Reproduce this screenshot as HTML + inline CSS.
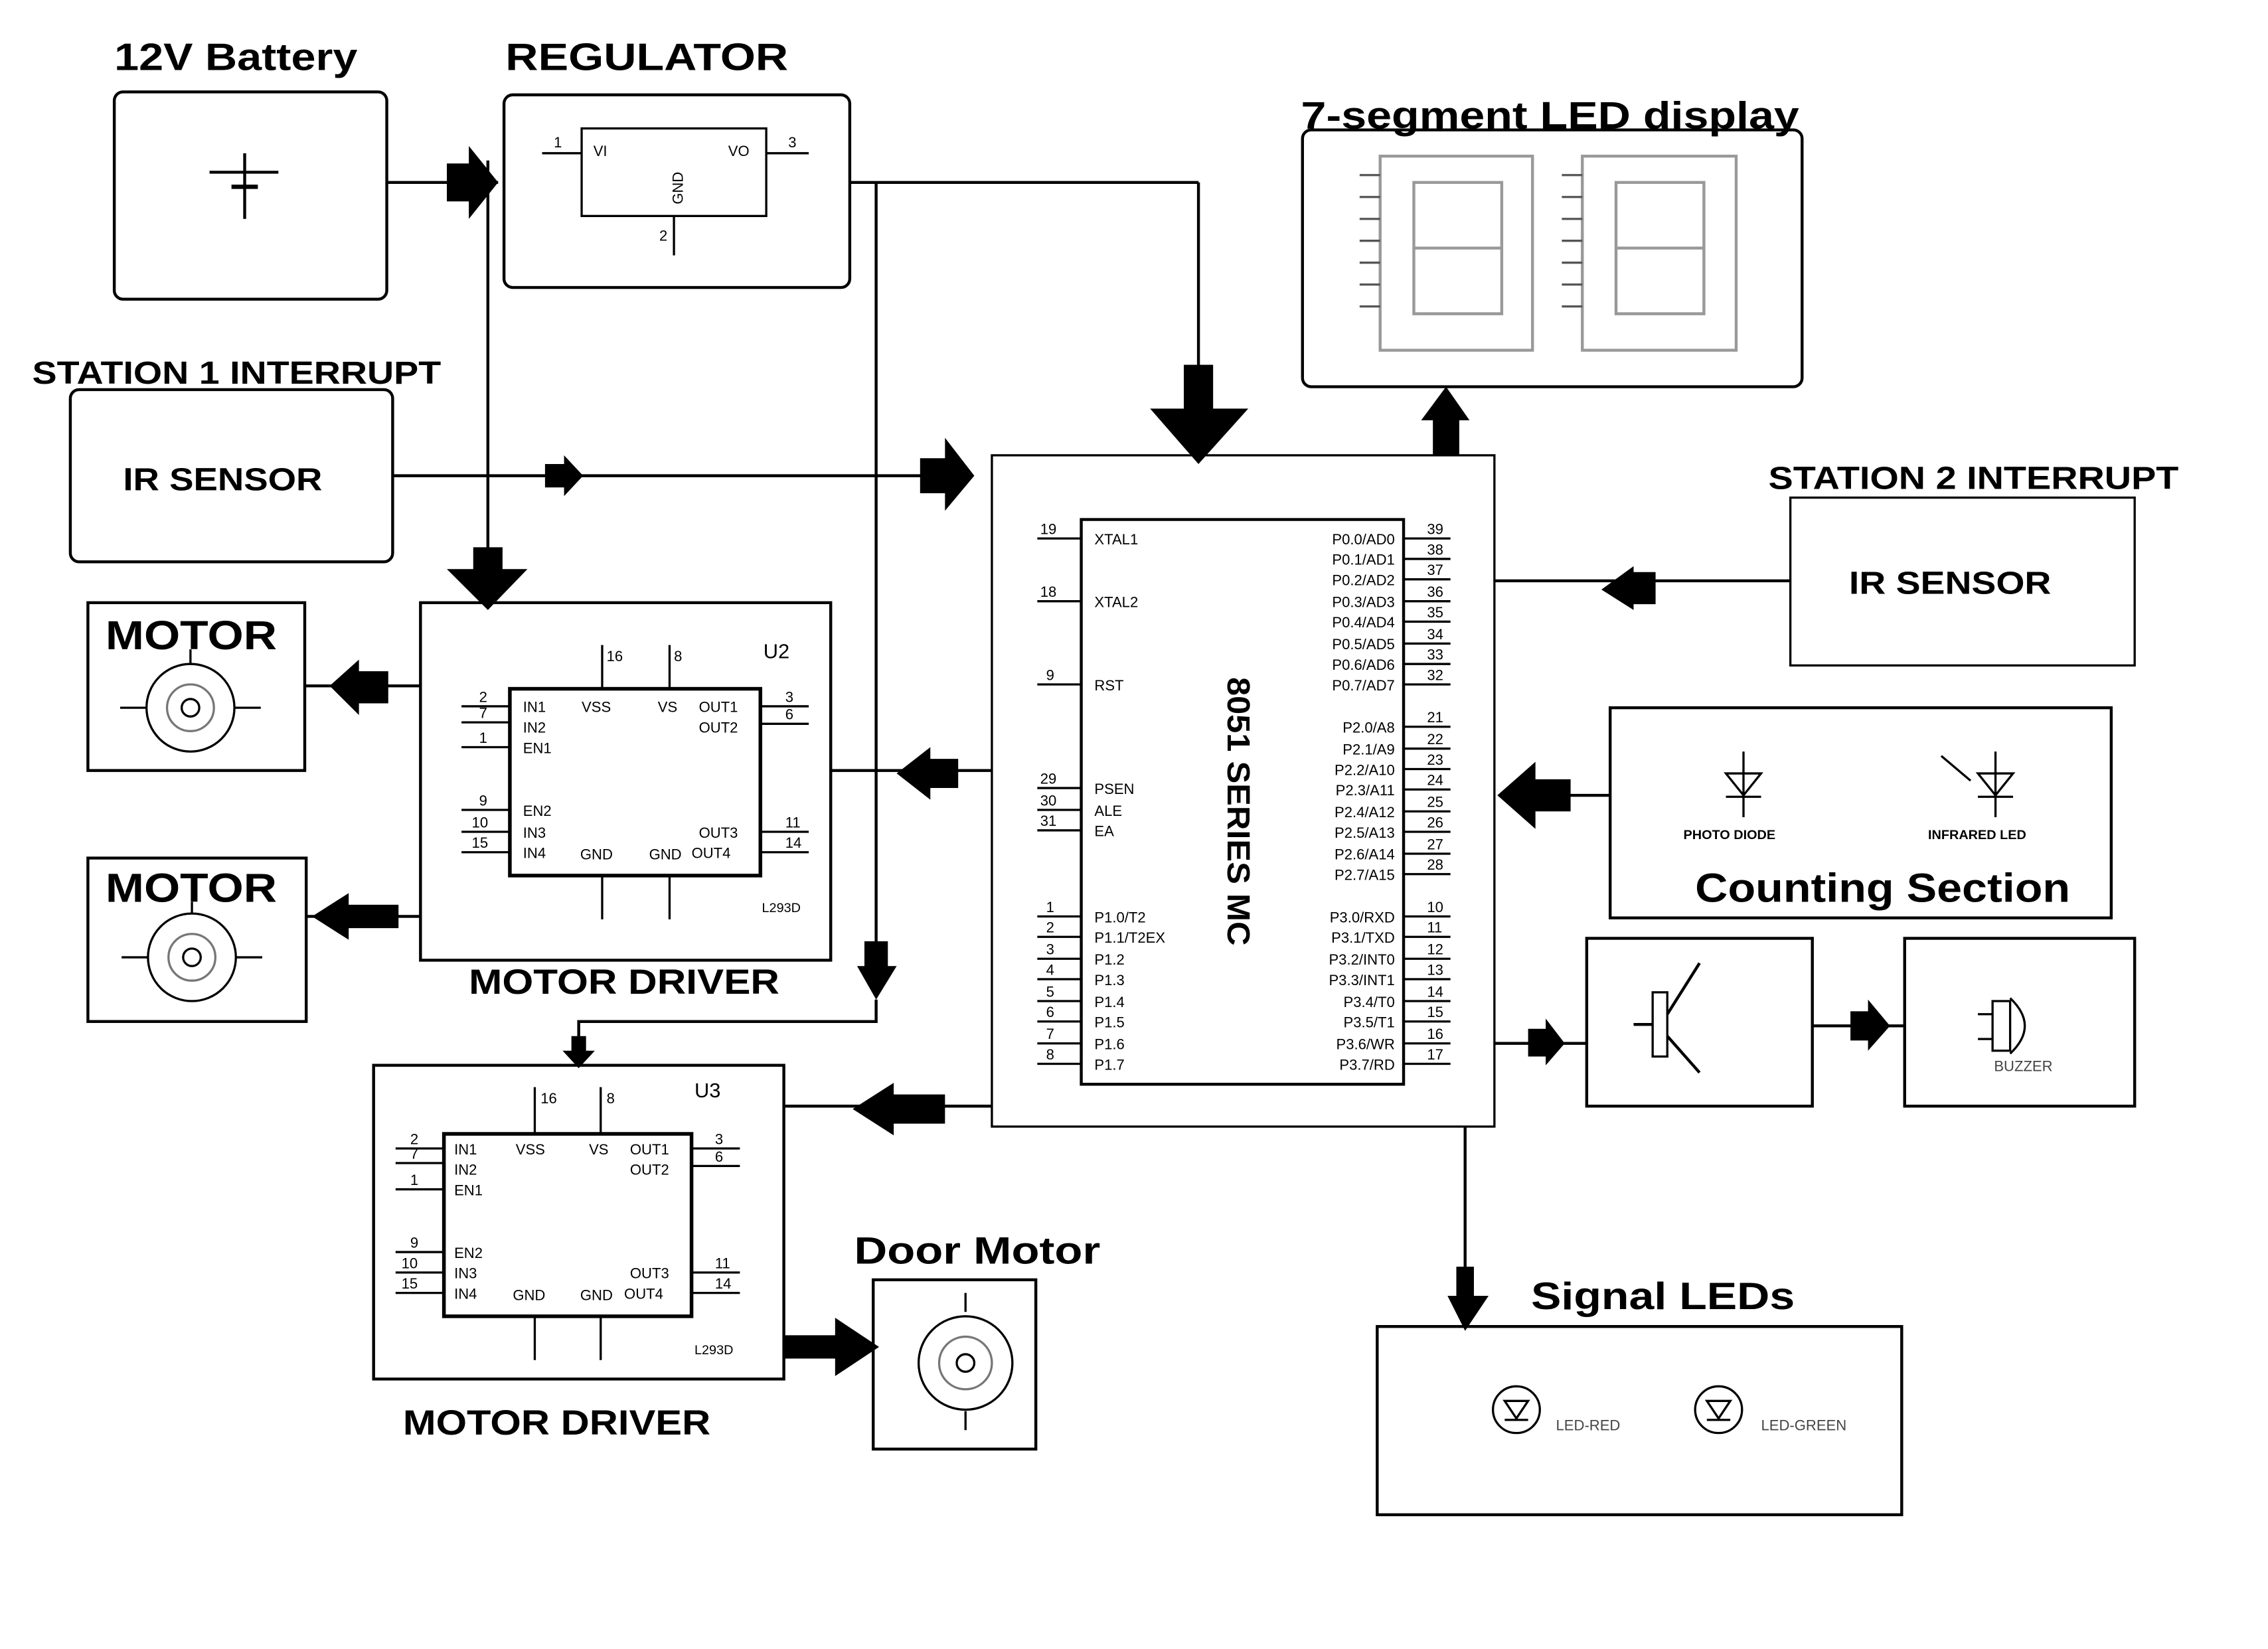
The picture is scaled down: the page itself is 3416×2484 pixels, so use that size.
<!DOCTYPE html>
<html><head><meta charset="utf-8"><style>
html,body{margin:0;padding:0;background:#fff;}
svg{display:block;}
text{font-family:"Liberation Sans",sans-serif;}
.b{font-weight:bold;}
</style></head><body>
<svg width="3416" height="2484" viewBox="0 0 1548 1130" preserveAspectRatio="none" xmlns="http://www.w3.org/2000/svg">
<rect width="1548" height="1130" fill="#fff"/>
<g fill="none" stroke="#000" stroke-width="2">
<rect x="78" y="63" width="186" height="142" rx="6"/>
<line x1="143" y1="118" x2="190" y2="118"/><line x1="167" y1="105" x2="167" y2="150"/><line x1="158" y1="128" x2="176" y2="128" stroke-width="3"/>
<rect x="344" y="65" width="236" height="132" rx="6"/>
<rect x="397" y="88" width="126" height="60" stroke-width="1.5"/>
<line x1="370" y1="105" x2="397" y2="105" stroke-width="1.5"/><line x1="523" y1="105" x2="552" y2="105" stroke-width="1.5"/><line x1="460" y1="148" x2="460" y2="175" stroke-width="1.5"/>
<line x1="264" y1="125" x2="340" y2="125"/>
<line x1="580" y1="125" x2="818" y2="125"/><line x1="818" y1="125" x2="818" y2="255"/>
<line x1="333" y1="110" x2="333" y2="380"/>
<line x1="598" y1="125" x2="598" y2="650"/>
<polyline points="598,685 598,700 395,700 395,712"/>
<line x1="268" y1="326" x2="635" y2="326"/>
<rect x="48" y="267" width="220" height="118" rx="6"/>
<rect x="889" y="89" width="341" height="176" rx="6"/>
<rect x="677" y="312" width="343" height="460" stroke-width="1.5"/>
<rect x="738" y="356" width="220" height="387" stroke-width="2"/>
<rect x="1222" y="341" width="235" height="115" stroke-width="1.5"/>
<line x1="1020" y1="398" x2="1222" y2="398"/>
<rect x="1099" y="485" width="342" height="144"/>
<line x1="1060" y1="545" x2="1099" y2="545"/>
<rect x="1083" y="643" width="154" height="115"/>
<rect x="1300" y="643" width="157" height="115"/>
<line x1="1020" y1="715" x2="1083" y2="715"/><line x1="1237" y1="703" x2="1300" y2="703"/>
<rect x="1128" y="680" width="10" height="44" stroke-width="1.5"/><line x1="1115" y1="702" x2="1128" y2="702"/>
<line x1="1138" y1="695" x2="1160" y2="660"/><line x1="1138" y1="710" x2="1160" y2="735"/>
<path d="M1360 686 L1372 686 L1372 720 L1360 720 Z M1372 684 Q1392 703 1372 722" stroke-width="1.5"/>
<line x1="1350" y1="695" x2="1360" y2="695" stroke-width="1.5"/><line x1="1350" y1="712" x2="1360" y2="712" stroke-width="1.5"/>
<rect x="940" y="909" width="358" height="129"/>
<line x1="1000" y1="772" x2="1000" y2="880"/>
<circle cx="1035" cy="966" r="16" stroke-width="1.5"/><circle cx="1173" cy="966" r="16" stroke-width="1.5"/>
<path d="M1027 960 L1043 960 L1035 972 Z M1027 973 L1043 973 M1165 960 L1181 960 L1173 972 Z M1165 973 L1181 973" stroke-width="1.5"/>
<path d="M1178 530 L1202 530 L1190 545 Z M1178 546 L1202 546 M1190 515 L1190 560" stroke-width="1.5"/>
<path d="M1350 530 L1374 530 L1362 545 Z M1350 546 L1374 546 M1362 515 L1362 560 M1345 535 L1325 518" stroke-width="1.5"/>
<rect x="287" y="413" width="280" height="245"/>
<rect x="348" y="472" width="171" height="128" stroke-width="2.5"/>
<g stroke-width="1.5">
<line x1="315" y1="484" x2="348" y2="484"/><line x1="315" y1="495" x2="348" y2="495"/><line x1="315" y1="512" x2="348" y2="512"/>
<line x1="315" y1="555" x2="348" y2="555"/><line x1="315" y1="570" x2="348" y2="570"/><line x1="315" y1="584" x2="348" y2="584"/>
<line x1="519" y1="484" x2="552" y2="484"/><line x1="519" y1="496" x2="552" y2="496"/><line x1="519" y1="570" x2="552" y2="570"/><line x1="519" y1="584" x2="552" y2="584"/>
<line x1="411" y1="442" x2="411" y2="472"/><line x1="457" y1="442" x2="457" y2="472"/><line x1="411" y1="600" x2="411" y2="630"/><line x1="457" y1="600" x2="457" y2="630"/>
</g>
<line x1="567" y1="528" x2="677" y2="528"/>
<rect x="255" y="730" width="280" height="215"/>
<rect x="303" y="777" width="169" height="125" stroke-width="2.5"/>
<g stroke-width="1.5">
<line x1="270" y1="787" x2="303" y2="787"/><line x1="270" y1="797" x2="303" y2="797"/><line x1="270" y1="815" x2="303" y2="815"/>
<line x1="270" y1="858" x2="303" y2="858"/><line x1="270" y1="872" x2="303" y2="872"/><line x1="270" y1="886" x2="303" y2="886"/>
<line x1="472" y1="787" x2="505" y2="787"/><line x1="472" y1="799" x2="505" y2="799"/><line x1="472" y1="872" x2="505" y2="872"/><line x1="472" y1="886" x2="505" y2="886"/>
<line x1="365" y1="745" x2="365" y2="777"/><line x1="410" y1="745" x2="410" y2="777"/><line x1="365" y1="902" x2="365" y2="932"/><line x1="410" y1="902" x2="410" y2="932"/>
</g>
<line x1="535" y1="758" x2="677" y2="758"/>
<rect x="60" y="413" width="148" height="115"/><rect x="60" y="588" width="149" height="112"/>
<line x1="208" y1="470" x2="287" y2="470"/><line x1="209" y1="628" x2="287" y2="628"/>
<rect x="596" y="877" width="111" height="116"/>
<g stroke-width="1.5">
<circle cx="130" cy="485" r="30"/><circle cx="130" cy="485" r="16" stroke="#777"/><circle cx="130" cy="485" r="6"/><line x1="130" y1="455" x2="130" y2="445"/><line x1="100" y1="485" x2="82" y2="485"/><line x1="160" y1="485" x2="178" y2="485"/>
<circle cx="131" cy="656" r="30"/><circle cx="131" cy="656" r="16" stroke="#777"/><circle cx="131" cy="656" r="6"/><line x1="131" y1="626" x2="131" y2="618"/><line x1="101" y1="656" x2="83" y2="656"/><line x1="161" y1="656" x2="179" y2="656"/>
<circle cx="659" cy="934" r="32"/><circle cx="659" cy="934" r="18" stroke="#777"/><circle cx="659" cy="934" r="6"/><line x1="659" y1="899" x2="659" y2="886"/><line x1="659" y1="967" x2="659" y2="980"/>
</g>
<g stroke-width="1.5">
<line x1="708" y1="369" x2="738" y2="369"/><line x1="708" y1="412" x2="738" y2="412"/><line x1="708" y1="469" x2="738" y2="469"/>
<line x1="708" y1="540" x2="738" y2="540"/><line x1="708" y1="555" x2="738" y2="555"/><line x1="708" y1="569" x2="738" y2="569"/>
<line x1="708" y1="628" x2="738" y2="628"/><line x1="708" y1="642" x2="738" y2="642"/><line x1="708" y1="657" x2="738" y2="657"/><line x1="708" y1="671" x2="738" y2="671"/><line x1="708" y1="686" x2="738" y2="686"/><line x1="708" y1="700" x2="738" y2="700"/><line x1="708" y1="715" x2="738" y2="715"/><line x1="708" y1="729" x2="738" y2="729"/>
<line x1="958" y1="369" x2="990" y2="369"/><line x1="958" y1="383" x2="990" y2="383"/><line x1="958" y1="397" x2="990" y2="397"/><line x1="958" y1="412" x2="990" y2="412"/><line x1="958" y1="426" x2="990" y2="426"/><line x1="958" y1="441" x2="990" y2="441"/><line x1="958" y1="455" x2="990" y2="455"/><line x1="958" y1="469" x2="990" y2="469"/>
<line x1="958" y1="498" x2="990" y2="498"/><line x1="958" y1="513" x2="990" y2="513"/><line x1="958" y1="527" x2="990" y2="527"/><line x1="958" y1="541" x2="990" y2="541"/><line x1="958" y1="556" x2="990" y2="556"/><line x1="958" y1="570" x2="990" y2="570"/><line x1="958" y1="585" x2="990" y2="585"/><line x1="958" y1="599" x2="990" y2="599"/>
<line x1="958" y1="628" x2="990" y2="628"/><line x1="958" y1="642" x2="990" y2="642"/><line x1="958" y1="657" x2="990" y2="657"/><line x1="958" y1="671" x2="990" y2="671"/><line x1="958" y1="686" x2="990" y2="686"/><line x1="958" y1="700" x2="990" y2="700"/><line x1="958" y1="715" x2="990" y2="715"/><line x1="958" y1="729" x2="990" y2="729"/>
</g>
</g>
<g fill="none" stroke="#999" stroke-width="2">
<rect x="942" y="107" width="104" height="133"/><rect x="1080" y="107" width="105" height="133"/>
<path d="M965 125 L1025 125 L1025 170 L965 170 Z M965 170 L965 215 L1025 215 L1025 170"/>
<path d="M1103 125 L1163 125 L1163 170 L1103 170 Z M1103 170 L1103 215 L1163 215 L1163 170"/>
</g>
<g stroke="#555" stroke-width="1.5">
<line x1="928" y1="120" x2="942" y2="120"/><line x1="928" y1="135" x2="942" y2="135"/><line x1="928" y1="150" x2="942" y2="150"/><line x1="928" y1="165" x2="942" y2="165"/><line x1="928" y1="180" x2="942" y2="180"/><line x1="928" y1="195" x2="942" y2="195"/><line x1="928" y1="210" x2="942" y2="210"/>
<line x1="1066" y1="120" x2="1080" y2="120"/><line x1="1066" y1="135" x2="1080" y2="135"/><line x1="1066" y1="150" x2="1080" y2="150"/><line x1="1066" y1="165" x2="1080" y2="165"/><line x1="1066" y1="180" x2="1080" y2="180"/><line x1="1066" y1="195" x2="1080" y2="195"/><line x1="1066" y1="210" x2="1080" y2="210"/>
</g>
<g fill="#000">
<path d="M305 112 L320 112 L320 100 L340 125 L320 150 L320 138 L305 138 Z"/>
<path d="M808 250 L828 250 L828 280 L852 280 L818 318 L785 280 L808 280 Z"/>
<path d="M323 375 L343 375 L343 390 L360 390 L333 418 L305 390 L323 390 Z"/>
<path d="M590 645 L606 645 L606 662 L612 662 L598 685 L585 662 L590 662 Z"/>
<path d="M390 710 L400 710 L400 720 L406 720 L395 732 L384 720 L390 720 Z"/>
<path d="M372 318 L385 318 L385 312 L398 326 L385 340 L385 334 L372 334 Z"/>
<path d="M628 314 L645 314 L645 300 L665 326 L645 350 L645 338 L628 338 Z"/>
<path d="M978 312 L996 312 L996 288 L1003 288 L987 265 L970 288 L978 288 Z"/>
<path d="M1130 392 L1115 392 L1115 388 L1093 404 L1115 418 L1115 414 L1130 414 Z"/>
<path d="M1072 534 L1048 534 L1048 522 L1022 545 L1048 568 L1048 556 L1072 556 Z"/>
<path d="M1043 705 L1055 705 L1055 698 L1068 715 L1055 730 L1055 724 L1043 724 Z"/>
<path d="M1263 693 L1275 693 L1275 685 L1290 703 L1275 720 L1275 713 L1263 713 Z"/>
<path d="M994 868 L1006 868 L1006 888 L1016 888 L1000 912 L988 888 L994 888 Z"/>
<path d="M265 460 L245 460 L245 452 L225 470 L245 490 L245 482 L265 482 Z"/>
<path d="M272 620 L238 620 L238 612 L213 628 L238 644 L238 636 L272 636 Z"/>
<path d="M654 520 L635 520 L635 512 L612 530 L635 548 L635 540 L654 540 Z"/>
<path d="M645 750 L610 750 L610 742 L582 760 L610 778 L610 770 L645 770 Z"/>
<path d="M535 915 L570 915 L570 903 L600 923 L570 943 L570 931 L535 931 Z"/>
</g>
<g font-weight="bold" font-size="26" fill="#000">
<text x="78" y="48" textLength="166" lengthAdjust="spacingAndGlyphs">12V Battery</text>
<text x="345" y="48" textLength="193" lengthAdjust="spacingAndGlyphs">REGULATOR</text>
<text x="888" y="88" textLength="340" lengthAdjust="spacingAndGlyphs">7-segment LED display</text>
<text x="1045" y="897" textLength="180" lengthAdjust="spacingAndGlyphs">Signal LEDs</text>
<text x="583" y="866" textLength="168" lengthAdjust="spacingAndGlyphs">Door Motor</text>
<text x="1157" y="618" font-size="28" textLength="256" lengthAdjust="spacingAndGlyphs">Counting Section</text>
<text x="72" y="445" font-size="28" textLength="117" lengthAdjust="spacingAndGlyphs">MOTOR</text>
<text x="72" y="618" font-size="28" textLength="117" lengthAdjust="spacingAndGlyphs">MOTOR</text>
<text x="22" y="263" font-size="22" textLength="279" lengthAdjust="spacingAndGlyphs">STATION 1 INTERRUPT</text>
<text x="1207" y="335" font-size="22" textLength="280" lengthAdjust="spacingAndGlyphs">STATION 2 INTERRUPT</text>
<text x="84" y="336" font-size="22" textLength="136" lengthAdjust="spacingAndGlyphs">IR SENSOR</text>
<text x="1262" y="407" font-size="22" textLength="138" lengthAdjust="spacingAndGlyphs">IR SENSOR</text>
<text x="320" y="681" font-size="24" textLength="212" lengthAdjust="spacingAndGlyphs">MOTOR DRIVER</text>
<text x="275" y="983" font-size="24" textLength="210" lengthAdjust="spacingAndGlyphs">MOTOR DRIVER</text>
<text x="838" y="464" font-size="22" transform="rotate(90 838 464)" textLength="184" lengthAdjust="spacingAndGlyphs">8051 SERIES MC</text>
</g>
<g font-size="10" fill="#000">
<text x="378" y="101">1</text><text x="405" y="107">VI</text><text x="497" y="107">VO</text><text x="538" y="101">3</text>
<text x="466" y="140" transform="rotate(-90 466 140)">GND</text><text x="450" y="165">2</text>
<text x="747" y="373">XTAL1</text><text x="747" y="416">XTAL2</text><text x="747" y="473">RST</text>
<text x="747" y="544">PSEN</text><text x="747" y="559">ALE</text><text x="747" y="573">EA</text>
<text x="747" y="632">P1.0/T2</text><text x="747" y="646">P1.1/T2EX</text><text x="747" y="661">P1.2</text><text x="747" y="675">P1.3</text><text x="747" y="690">P1.4</text><text x="747" y="704">P1.5</text><text x="747" y="719">P1.6</text><text x="747" y="733">P1.7</text>
<text x="710" y="366">19</text><text x="710" y="409">18</text><text x="714" y="466">9</text><text x="710" y="537">29</text><text x="710" y="552">30</text><text x="710" y="566">31</text>
<text x="714" y="625">1</text><text x="714" y="639">2</text><text x="714" y="654">3</text><text x="714" y="668">4</text><text x="714" y="683">5</text><text x="714" y="697">6</text><text x="714" y="712">7</text><text x="714" y="726">8</text>
<g text-anchor="end">
<text x="952" y="373">P0.0/AD0</text><text x="952" y="387">P0.1/AD1</text><text x="952" y="401">P0.2/AD2</text><text x="952" y="416">P0.3/AD3</text><text x="952" y="430">P0.4/AD4</text><text x="952" y="445">P0.5/AD5</text><text x="952" y="459">P0.6/AD6</text><text x="952" y="473">P0.7/AD7</text>
<text x="952" y="502">P2.0/A8</text><text x="952" y="517">P2.1/A9</text><text x="952" y="531">P2.2/A10</text><text x="952" y="545">P2.3/A11</text><text x="952" y="560">P2.4/A12</text><text x="952" y="574">P2.5/A13</text><text x="952" y="589">P2.6/A14</text><text x="952" y="603">P2.7/A15</text>
<text x="952" y="632">P3.0/RXD</text><text x="952" y="646">P3.1/TXD</text><text x="952" y="661">P3.2/INT0</text><text x="952" y="675">P3.3/INT1</text><text x="952" y="690">P3.4/T0</text><text x="952" y="704">P3.5/T1</text><text x="952" y="719">P3.6/WR</text><text x="952" y="733">P3.7/RD</text>
</g>
<text x="974" y="366">39</text><text x="974" y="380">38</text><text x="974" y="394">37</text><text x="974" y="409">36</text><text x="974" y="423">35</text><text x="974" y="438">34</text><text x="974" y="452">33</text><text x="974" y="466">32</text>
<text x="974" y="495">21</text><text x="974" y="510">22</text><text x="974" y="524">23</text><text x="974" y="538">24</text><text x="974" y="553">25</text><text x="974" y="567">26</text><text x="974" y="582">27</text><text x="974" y="596">28</text>
<text x="974" y="625">10</text><text x="974" y="639">11</text><text x="974" y="654">12</text><text x="974" y="668">13</text><text x="974" y="683">14</text><text x="974" y="697">15</text><text x="974" y="712">16</text><text x="974" y="726">17</text>
<text x="521" y="451" font-size="14">U2</text><text x="414" y="453">16</text><text x="460" y="453">8</text>
<text x="357" y="488">IN1</text><text x="357" y="502">IN2</text><text x="357" y="516">EN1</text><text x="357" y="559">EN2</text><text x="357" y="574">IN3</text><text x="357" y="588">IN4</text>
<text x="397" y="488">VSS</text><text x="449" y="488">VS</text><text x="477" y="488">OUT1</text><text x="477" y="502">OUT2</text><text x="477" y="574">OUT3</text><text x="472" y="588">OUT4</text>
<text x="396" y="589">GND</text><text x="443" y="589">GND</text><text x="520" y="625" font-size="9">L293D</text>
<text x="327" y="481">2</text><text x="327" y="492">7</text><text x="327" y="509">1</text><text x="327" y="552">9</text><text x="322" y="567">10</text><text x="322" y="581">15</text>
<text x="536" y="481">3</text><text x="536" y="493">6</text><text x="536" y="567">11</text><text x="536" y="581">14</text>
<text x="474" y="752" font-size="14">U3</text><text x="369" y="756">16</text><text x="414" y="756">8</text>
<text x="310" y="791">IN1</text><text x="310" y="805">IN2</text><text x="310" y="819">EN1</text><text x="310" y="862">EN2</text><text x="310" y="876">IN3</text><text x="310" y="890">IN4</text>
<text x="352" y="791">VSS</text><text x="402" y="791">VS</text><text x="430" y="791">OUT1</text><text x="430" y="805">OUT2</text><text x="430" y="876">OUT3</text><text x="426" y="890">OUT4</text>
<text x="350" y="891">GND</text><text x="396" y="891">GND</text><text x="474" y="928" font-size="9">L293D</text>
<text x="280" y="784">2</text><text x="280" y="794">7</text><text x="280" y="812">1</text><text x="280" y="855">9</text><text x="274" y="869">10</text><text x="274" y="883">15</text>
<text x="488" y="784">3</text><text x="488" y="796">6</text><text x="488" y="869">11</text><text x="488" y="883">14</text>
<text x="1149" y="575" font-size="9" font-weight="bold">PHOTO DIODE</text><text x="1316" y="575" font-size="9" font-weight="bold">INFRARED LED</text>
<text x="1361" y="734" fill="#444">BUZZER</text>
<text x="1062" y="980" fill="#444">LED-RED</text><text x="1202" y="980" fill="#444">LED-GREEN</text>
</g>
</svg>
</body></html>
